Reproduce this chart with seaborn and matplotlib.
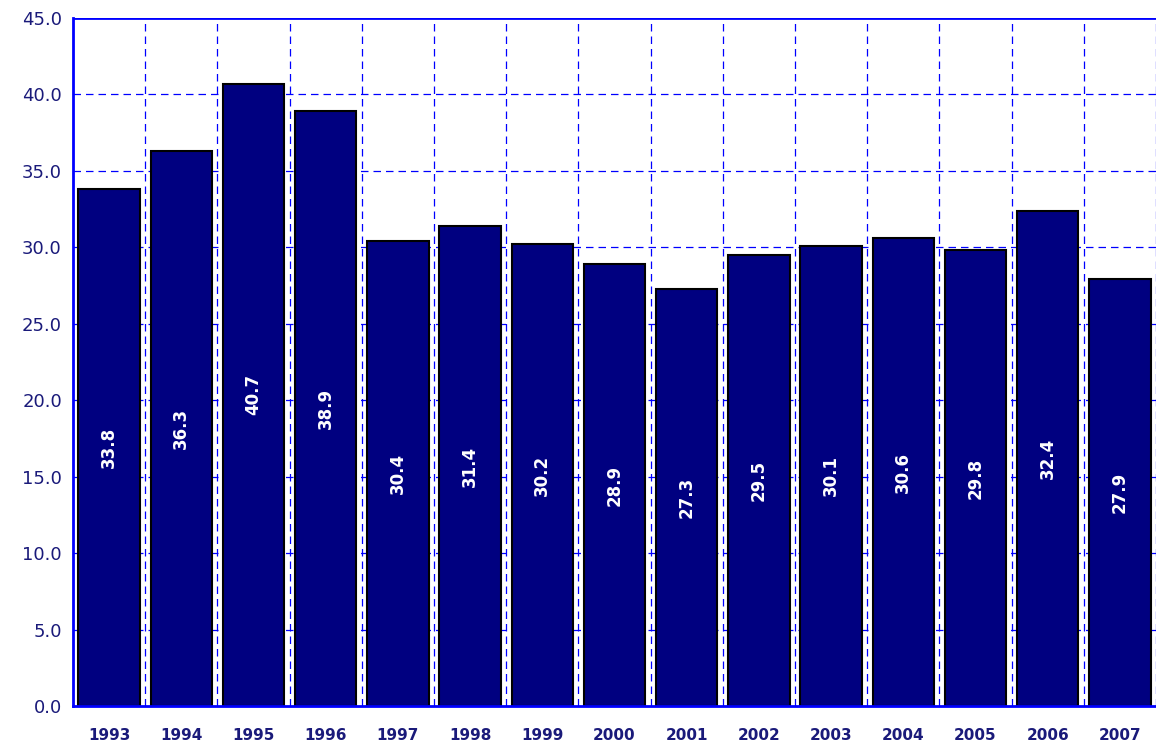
import matplotlib
matplotlib.use('Agg')
import matplotlib.pyplot as plt
import seaborn as sns
import pandas as pd

years = [str(y) for y in range(1993, 2008)]
values = [33.8, 36.3, 40.7, 38.9, 30.4, 31.4, 30.2, 28.9, 27.3, 29.5, 30.1, 30.6, 29.8, 32.4, 27.9]

df = pd.DataFrame({'year': years, 'value': values})

sns.set_style('white')
plt.rcParams['font.family'] = ['Verdana', 'DejaVu Sans']

fig = plt.figure(figsize=(11.56, 7.43), dpi=100)
ax = fig.add_axes([73 / 1156, 1 - 706 / 743, 1 - 73 / 1156, (706 - 18) / 743])

sns.barplot(ax=ax, data=df, x='year', y='value', color='#000080', saturation=1,
            width=0.85, edgecolor='black', linewidth=1.5, zorder=3)

# grid: horizontal at ticks, vertical between categories
for y in range(5, 45, 5):
    ax.axhline(y, color='#0000ff', linestyle=(0, (6, 4)), linewidth=0.9, zorder=1)
for i in range(len(years)):
    ax.axvline(i + 0.5, color='#0000ff', linestyle=(0, (6, 4)), linewidth=0.9, zorder=1)

for i, v in enumerate(values):
    ax.text(i, v / 2, f'{v:.1f}', rotation=90, ha='center', va='center',
            color='white', fontsize=12, fontweight='bold', zorder=4)

ax.set_ylim(0, 45)
ax.set_xlim(-0.5, 14.5)
ax.set_yticks(range(0, 50, 5))
ax.set_yticklabels([f'{y:.1f}' for y in range(0, 50, 5)], fontsize=13, color='#1a1a7a')
ax.set_xticks(range(len(years)))
ax.set_xticklabels(years, fontsize=11, fontweight='bold', color='#1a1a7a')
ax.tick_params(axis='x', length=0, pad=16)
ax.tick_params(axis='y', length=0, pad=8)
ax.set_xlabel('')
ax.set_ylabel('')
for s in ['top', 'right']:
    ax.spines[s].set_visible(False)
for s in ['left', 'bottom']:
    ax.spines[s].set_color('#0000ff')
    ax.spines[s].set_linewidth(2)
    ax.spines[s].set_zorder(5)
ax.axhline(45, color='#0000ff', linewidth=2, zorder=5)

fig.savefig('out.png', dpi=100)
